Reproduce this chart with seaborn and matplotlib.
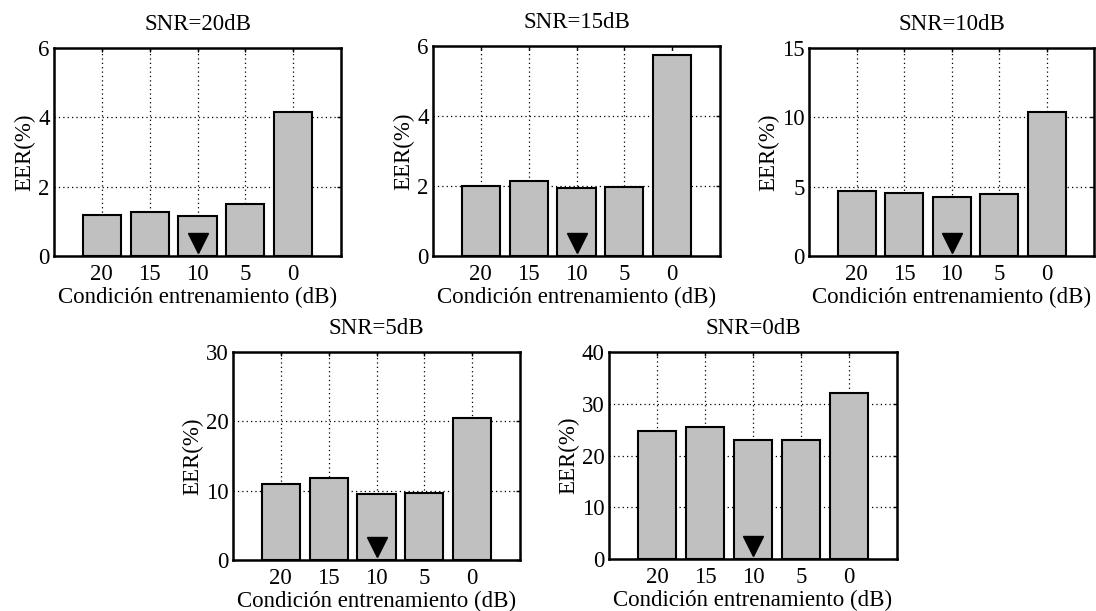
import matplotlib
matplotlib.use("Agg")
import matplotlib.pyplot as plt
import matplotlib.transforms as mtransforms
import pandas as pd
import seaborn as sns

# Training conditions (dB) shown on the x axis of every panel
conditions = ["20", "15", "10", "5", "0"]

# Test SNR of each panel
snr_titles = ["SNR=20dB", "SNR=15dB", "SNR=10dB", "SNR=5dB", "SNR=0dB"]

# EER (%) for each training condition, one list per test SNR
eer_snr20 = [1.18, 1.28, 1.16, 1.50, 4.16]
eer_snr15 = [2.01, 2.15, 1.95, 1.98, 5.74]
eer_snr10 = [4.70, 4.56, 4.27, 4.44, 10.39]
eer_snr5 = [10.94, 11.76, 9.50, 9.70, 20.45]
eer_snr0 = [24.65, 25.60, 22.90, 22.90, 32.06]

# Upper y limit and tick step for each panel
y_max = [6, 6, 15, 30, 40]
y_step = [2, 2, 5, 10, 10]

# Training condition marked with a triangle
best_condition = "10"

series = [eer_snr20, eer_snr15, eer_snr10, eer_snr5, eer_snr0]

FS = 16.5

sns.set_theme(style="white")
plt.rcParams["font.family"] = ["Liberation Serif", "DejaVu Serif"]
plt.rcParams["font.size"] = FS

W, H = 1096, 611
fig = plt.figure(figsize=(W / 100, H / 100), dpi=100)

# Axes boxes in pixels: left, top, right, bottom
boxes = [
    (54, 48, 341, 256),
    (433, 46, 720, 256),
    (809, 48, 1094, 256),
    (233, 352, 520, 560),
    (609, 352, 897, 559),
]

for values, title, ymax, step, (l, t, r, b) in zip(series, snr_titles, y_max, y_step, boxes):
    ax = fig.add_axes([l / W, 1 - b / H, (r - l) / W, (b - t) / H])
    df = pd.DataFrame({"cond": conditions, "eer": values})
    sns.barplot(data=df, x="cond", y="eer", order=conditions, ax=ax,
                color="#c0c0c0", saturation=1, width=0.8,
                edgecolor="black", linewidth=1.5, zorder=2)
    ax.set_xlim(-1, len(conditions))
    ax.set_ylim(0, ymax)
    ax.set_yticks(range(0, ymax + 1, step))
    ax.set_axisbelow(True)
    ax.grid(True, which="major", axis="both", color="black",
            linestyle=(0, (1, 2.5)), linewidth=0.9)
    ax.tick_params(direction="in", top=True, right=True, length=3,
                   width=1.0, color="black", labelsize=FS, pad=3,
                   labelcolor="black")
    ax.tick_params(axis="x", pad=6)
    for sp in ax.spines.values():
        sp.set_visible(True)
        sp.set_color("black")
        sp.set_linewidth(1.8)
    ax.set_facecolor("white")
    ax.set_title(title, fontsize=FS, pad=13, color="black")
    ax.set_xlabel("Condición entrenamiento (dB)", fontsize=FS,
                  labelpad=1, color="black")
    ax.set_ylabel("EER(%)", fontsize=FS, labelpad=2, color="black")

    # Triangle marking the selected training condition
    trans = mtransforms.blended_transform_factory(ax.transData, ax.transAxes)
    ax.plot([conditions.index(best_condition)], [0.062], marker="v",
            markersize=15, color="black", transform=trans,
            linestyle="none", zorder=3)

fig.savefig("out.png", dpi=100, facecolor="white")
